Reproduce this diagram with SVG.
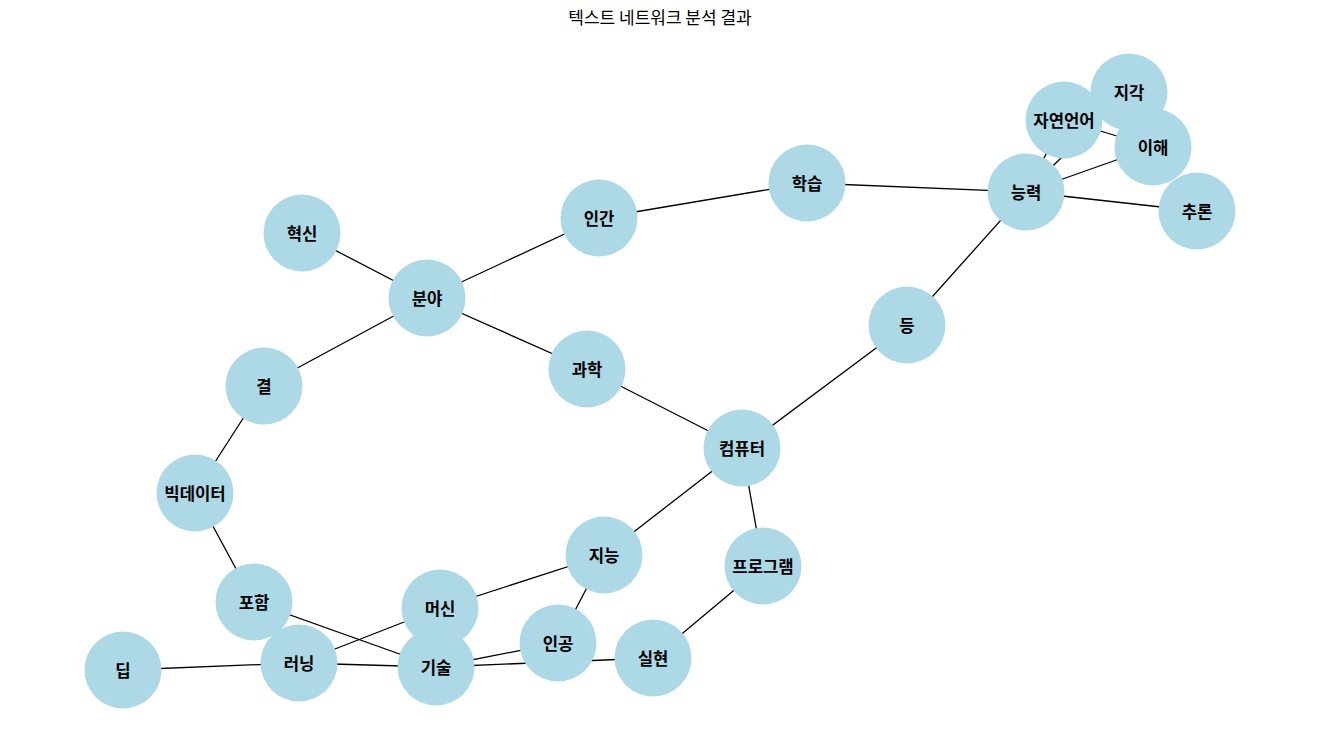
<svg xmlns="http://www.w3.org/2000/svg" width="1320" height="741" viewBox="0 0 1320 741">
<style>
.e{stroke:#000;stroke-width:1.3;fill:none}
.n circle{fill:#ADD8E6}
.n text{font-family:"Noto Sans CJK KR","Noto Sans",sans-serif;font-size:16.7px;font-weight:bold;fill:#000;text-anchor:middle;dominant-baseline:central}
.t{font-family:"Noto Sans CJK KR","Noto Sans",sans-serif;font-size:17px;fill:#000;text-anchor:middle}
</style>
<rect width="1320" height="741" fill="#fff"/>
<text class="t" x="660" y="24">텍스트 네트워크 분석 결과</text>
<g id="edges">
<line class="e" x1="302" y1="233" x2="427" y2="298"/>
<line class="e" x1="427" y1="298" x2="599" y2="218"/>
<line class="e" x1="427" y1="298" x2="264" y2="386"/>
<line class="e" x1="427" y1="298" x2="587" y2="369"/>
<line class="e" x1="599" y1="218" x2="807" y2="183"/>
<line class="e" x1="807" y1="183" x2="1026" y2="192"/>
<line class="e" x1="1026" y1="192" x2="1064" y2="120"/>
<line class="e" x1="1026" y1="192" x2="1129" y2="92"/>
<line class="e" x1="1026" y1="192" x2="1153" y2="147"/>
<line class="e" x1="1026" y1="192" x2="1197" y2="211"/>
<line class="e" x1="1064" y1="120" x2="1153" y2="147"/>
<line class="e" x1="1026" y1="192" x2="907" y2="325"/>
<line class="e" x1="907" y1="325" x2="742" y2="448"/>
<line class="e" x1="587" y1="369" x2="742" y2="448"/>
<line class="e" x1="742" y1="448" x2="604" y2="555"/>
<line class="e" x1="742" y1="448" x2="763" y2="566"/>
<line class="e" x1="763" y1="566" x2="653" y2="658"/>
<line class="e" x1="264" y1="386" x2="195" y2="493"/>
<line class="e" x1="195" y1="493" x2="254" y2="602"/>
<line class="e" x1="254" y1="602" x2="436" y2="667"/>
<line class="e" x1="123" y1="670" x2="299" y2="663"/>
<line class="e" x1="299" y1="663" x2="436" y2="667"/>
<line class="e" x1="299" y1="663" x2="440" y2="608"/>
<line class="e" x1="440" y1="608" x2="604" y2="555"/>
<line class="e" x1="604" y1="555" x2="558" y2="643"/>
<line class="e" x1="436" y1="667" x2="558" y2="643"/>
<line class="e" x1="436" y1="667" x2="653" y2="658"/>
</g>
<g id="n-hyeoksin" class="n"><circle cx="302" cy="233" r="38.5"/><text x="302" y="233">혁신</text></g>
<g id="n-bunya" class="n"><circle cx="427" cy="298" r="38.5"/><text x="427" y="298">분야</text></g>
<g id="n-ingan" class="n"><circle cx="599" cy="218" r="38.5"/><text x="599" y="218">인간</text></g>
<g id="n-hakseup" class="n"><circle cx="807" cy="183" r="38.5"/><text x="807" y="183">학습</text></g>
<g id="n-neungryeok" class="n"><circle cx="1026" cy="192" r="38.5"/><text x="1026" y="192">능력</text></g>
<g id="n-jayeoneoneo" class="n"><circle cx="1064" cy="120" r="38.5"/><text x="1064" y="120">자연언어</text></g>
<g id="n-jigak" class="n"><circle cx="1129" cy="92" r="38.5"/><text x="1129" y="92">지각</text></g>
<g id="n-ihae" class="n"><circle cx="1153" cy="147" r="38.5"/><text x="1153" y="147">이해</text></g>
<g id="n-churon" class="n"><circle cx="1197" cy="211" r="38.5"/><text x="1197" y="211">추론</text></g>
<g id="n-deung" class="n"><circle cx="907" cy="325" r="38.5"/><text x="907" y="325">등</text></g>
<g id="n-gwahak" class="n"><circle cx="587" cy="369" r="38.5"/><text x="587" y="369">과학</text></g>
<g id="n-gyeol" class="n"><circle cx="264" cy="386" r="38.5"/><text x="264" y="386">결</text></g>
<g id="n-keompyuteo" class="n"><circle cx="742" cy="448" r="38.5"/><text x="742" y="448">컴퓨터</text></g>
<g id="n-bigdata" class="n"><circle cx="195" cy="493" r="38.5"/><text x="195" y="493">빅데이터</text></g>
<g id="n-jineung" class="n"><circle cx="604" cy="555" r="38.5"/><text x="604" y="555">지능</text></g>
<g id="n-program" class="n"><circle cx="763" cy="566" r="38.5"/><text x="763" y="566">프로그램</text></g>
<g id="n-poham" class="n"><circle cx="254" cy="602" r="38.5"/><text x="254" y="602">포함</text></g>
<g id="n-deep" class="n"><circle cx="123" cy="670" r="38.5"/><text x="123" y="670">딥</text></g>
<g id="n-reoning" class="n"><circle cx="299" cy="663" r="38.5"/><text x="299" y="663">러닝</text></g>
<g id="n-machine" class="n"><circle cx="440" cy="608" r="38.5"/><text x="440" y="608">머신</text></g>
<g id="n-gisul" class="n"><circle cx="436" cy="667" r="38.5"/><text x="436" y="667">기술</text></g>
<g id="n-ingong" class="n"><circle cx="558" cy="643" r="38.5"/><text x="558" y="643">인공</text></g>
<g id="n-silhyeon" class="n"><circle cx="653" cy="658" r="38.5"/><text x="653" y="658">실현</text></g>
</svg>
